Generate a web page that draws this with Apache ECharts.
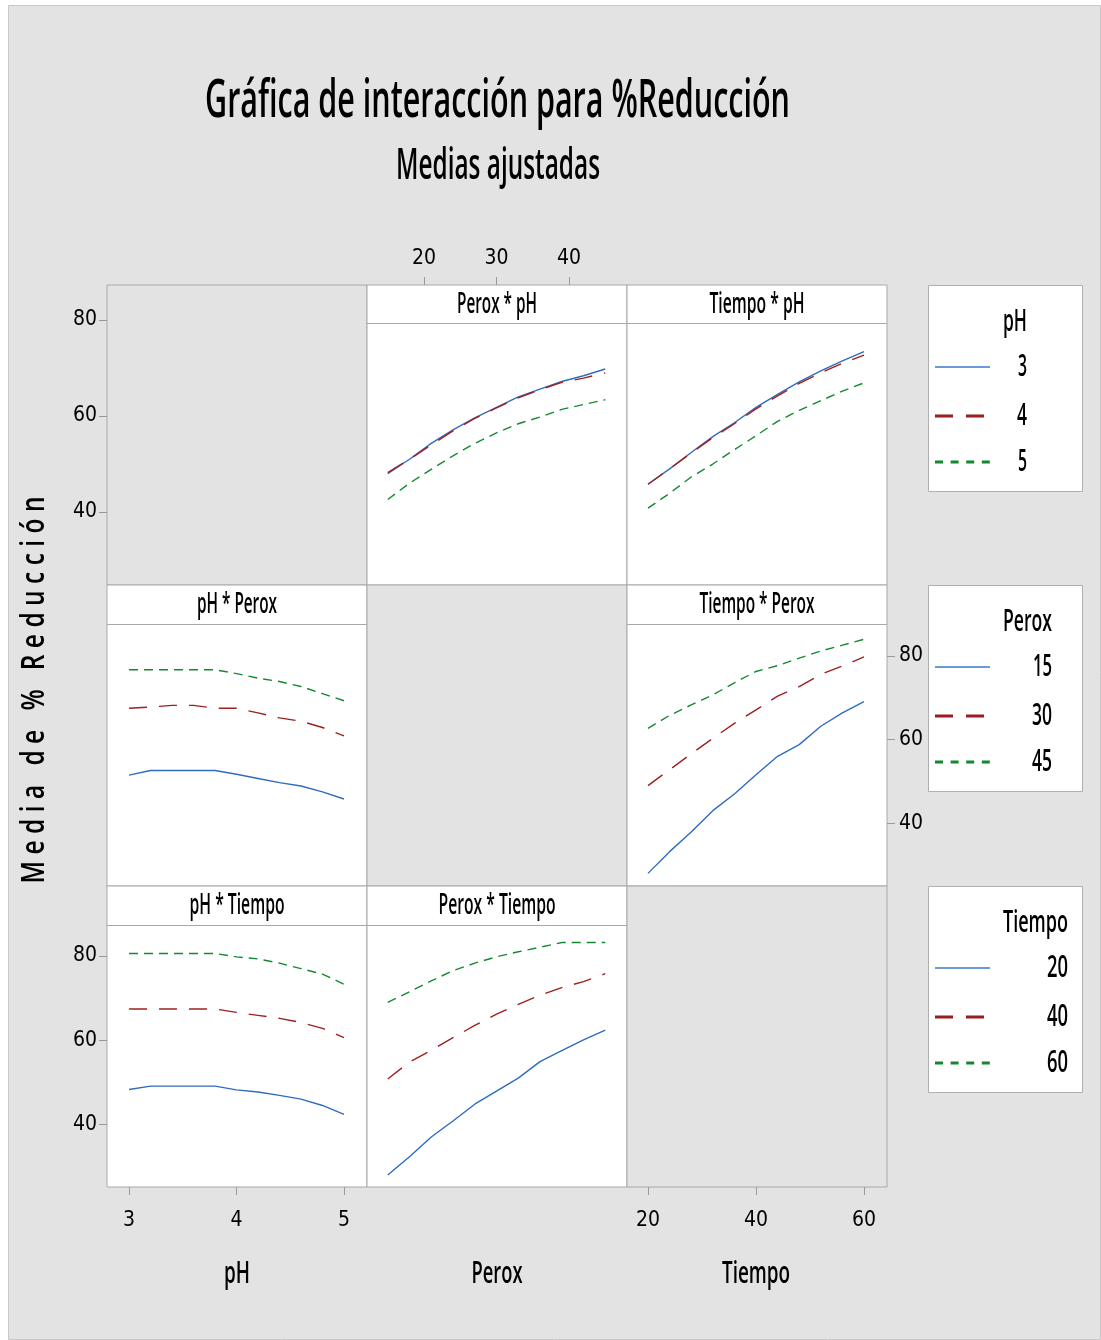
<!DOCTYPE html>
<html>
<head>
<meta charset="utf-8">
<script src="https://cdn.jsdelivr.net/npm/echarts@6/dist/echarts.min.js"></script>
<style>
  html, body { margin: 0; padding: 0; background: #ffffff; }
  #chart { width: 1101px; height: 1340px; }
</style>
</head>
<body>
<div id="chart"></div>
<script>
// Factor levels
const phLevels = [3, 4, 5];
const peroxLevels = [15, 30, 45];
const tiempoLevels = [20, 40, 60];

// Points along each factor where the adjusted means are evaluated
const phGrid = [3.0, 3.2, 3.4, 3.6, 3.8, 4.0, 4.2, 4.4, 4.6, 4.8, 5.0];
const peroxGrid = [15, 18, 21, 24, 27, 30, 33, 36, 39, 42, 45];
const tiempoGrid = [20, 24, 28, 32, 36, 40, 44, 48, 52, 56, 60];

// Mean %Reducción vs Perox, one curve per pH level
const peroxPh3 = [48.0, 51.0, 54.3, 57.1, 59.6, 61.8, 64.0, 65.6, 67.2, 68.4, 69.8];
const peroxPh4 = [48.2, 51.0, 54.0, 56.9, 59.5, 61.7, 63.8, 65.5, 67.0, 67.9, 69.0];
const peroxPh5 = [42.6, 46.0, 48.9, 51.7, 54.3, 56.5, 58.4, 59.8, 61.4, 62.4, 63.4];

// Mean %Reducción vs Tiempo, one curve per pH level
const tiempoPh3 = [45.8, 49.0, 52.4, 55.7, 58.6, 61.8, 64.5, 67.1, 69.4, 71.5, 73.4];
const tiempoPh4 = [45.8, 49.0, 52.3, 55.5, 58.4, 61.5, 64.2, 66.8, 69.0, 71.0, 72.7];
const tiempoPh5 = [40.8, 43.9, 47.3, 50.0, 53.0, 55.9, 58.9, 61.2, 63.2, 65.2, 66.9];

// Mean %Reducción vs pH, one curve per Perox level
const phPerox15 = [51.5, 52.6, 52.6, 52.6, 52.6, 51.7, 50.7, 49.7, 48.9, 47.5, 45.8];
const phPerox30 = [67.5, 67.8, 68.2, 68.2, 67.5, 67.5, 66.4, 65.2, 64.4, 62.9, 60.9];
const phPerox45 = [76.7, 76.7, 76.7, 76.7, 76.7, 75.8, 74.7, 73.9, 72.7, 71.0, 69.3];

// Mean %Reducción vs Tiempo, one curve per Perox level
const tiempoPerox15 = [28.0, 33.2, 37.9, 43.0, 47.0, 51.6, 56.0, 58.8, 63.2, 66.4, 69.1];
const tiempoPerox30 = [49.0, 52.8, 56.6, 60.3, 63.9, 67.1, 70.4, 72.7, 75.6, 77.6, 79.8];
const tiempoPerox45 = [62.7, 65.8, 68.3, 70.7, 73.6, 76.3, 77.7, 79.5, 81.2, 82.6, 84.0];

// Mean %Reducción vs pH, one curve per Tiempo level
const phTiempo20 = [48.3, 49.1, 49.1, 49.1, 49.1, 48.2, 47.7, 46.9, 46.0, 44.5, 42.4];
const phTiempo40 = [67.4, 67.4, 67.4, 67.4, 67.4, 66.6, 65.9, 65.2, 64.2, 62.8, 60.6];
const phTiempo60 = [80.6, 80.6, 80.6, 80.6, 80.6, 79.8, 79.3, 78.3, 77.0, 75.7, 73.3];

// Mean %Reducción vs Perox, one curve per Tiempo level
const peroxTiempo20 = [28.0, 32.3, 37.0, 40.8, 44.8, 47.9, 51.0, 54.9, 57.5, 60.1, 62.4];
const peroxTiempo40 = [50.8, 54.8, 57.6, 60.6, 63.5, 66.2, 68.5, 70.7, 72.5, 73.9, 75.8];
const peroxTiempo60 = [69.0, 71.5, 74.1, 76.5, 78.3, 79.8, 81.0, 82.1, 83.2, 83.2, 83.2];

// Tick labels
const meanTicks = [40, 60, 80];
const phTicks = [3, 4, 5];
const peroxTicks = [20, 30, 40];
const tiempoTicks = [20, 40, 60];

// Texts
const titleText = 'Gráfica de interacción para %Reducción';
const subtitleText = 'Medias ajustadas';
const yTitleText = 'M e d i a   d e   %   R e d u c c i ó n';
const factorNames = ['pH', 'Perox', 'Tiempo'];

// ---- layout of the 3x3 matrix ----
const colX = [107, 367, 627];
const rowY = [285, 585, 886];
const cellW = 260;
const cellH = [300, 301, 301];
const stripH = [38, 39, 39];
const colRange = [[2.795, 5.214], [12.14, 48.0], [16.11, 64.26]];
const rowRange = [[24.8, 87.3], [24.98, 96.99], [25.13, 96.63]];

const lineStyles = [
  { color: '#2f6cc0', width: 1.4, type: 'solid' },
  { color: '#a01f1f', width: 1.4, type: [18, 12] },
  { color: '#138a31', width: 1.4, type: [9, 6] }
];

const panels = [
  { row: 0, col: 1, xs: peroxGrid, curves: [peroxPh3, peroxPh4, peroxPh5], levels: phLevels, by: 'pH' },
  { row: 0, col: 2, xs: tiempoGrid, curves: [tiempoPh3, tiempoPh4, tiempoPh5], levels: phLevels, by: 'pH' },
  { row: 1, col: 0, xs: phGrid, curves: [phPerox15, phPerox30, phPerox45], levels: peroxLevels, by: 'Perox' },
  { row: 1, col: 2, xs: tiempoGrid, curves: [tiempoPerox15, tiempoPerox30, tiempoPerox45], levels: peroxLevels, by: 'Perox' },
  { row: 2, col: 0, xs: phGrid, curves: [phTiempo20, phTiempo40, phTiempo60], levels: tiempoLevels, by: 'Tiempo' },
  { row: 2, col: 1, xs: peroxGrid, curves: [peroxTiempo20, peroxTiempo40, peroxTiempo60], levels: tiempoLevels, by: 'Tiempo' }
];

// ---- text helpers (condensed lettering via horizontal scaling) ----
const FONT = '"Open Sans"';
const WEIGHT = 600;
const mctx = document.createElement('canvas').getContext('2d');
function squeeze(str, size, width) {
  mctx.font = WEIGHT + ' ' + size + 'px ' + FONT;
  return width / mctx.measureText(str).width;
}
function txt(str, x, y, size, width, align, extra) {
  const a = align || 'center';
  return Object.assign({
    type: 'text', x: x, y: y, z: 50, silent: true,
    scaleX: squeeze(str, size, width),
    style: {
      text: str, fontSize: size, fontFamily: FONT, fontWeight: WEIGHT, fill: '#000',
      align: a, verticalAlign: 'middle', textAlign: a, textVerticalAlign: 'middle'
    }
  }, extra || {});
}

// ---- grids and axes ----
const grids = [], xAxes = [], yAxes = [];
const tickStyle = { show: true, length: 8, lineStyle: { color: '#9a9a9a', width: 1 } };
const labelFont = { color: '#000', fontSize: 21, fontFamily: '"Liberation Sans Narrow", "DejaVu Sans Condensed", "Open Sans"' };

for (let r = 0; r < 3; r++) {
  for (let c = 0; c < 3; c++) {
    const i = r * 3 + c;
    grids.push({
      left: colX[c], top: rowY[r], width: cellW, height: cellH[r],
      show: true, backgroundColor: r === c ? '#e3e3e3' : '#ffffff',
      borderColor: '#a8a8a8', borderWidth: 1
    });
    xAxes.push({ gridIndex: i, type: 'value', min: colRange[c][0], max: colRange[c][1], show: false, splitLine: { show: false } });
    yAxes.push({ gridIndex: i, type: 'value', min: rowRange[r][0], max: rowRange[r][1], show: false, splitLine: { show: false } });
  }
}

function showAxis(ax, position, ticks, margin) {
  Object.assign(ax, {
    show: true, position: position,
    axisLine: { show: false },
    axisTick: Object.assign({ customValues: ticks }, tickStyle),
    axisLabel: Object.assign({ customValues: ticks, margin: margin }, labelFont)
  });
}
showAxis(yAxes[0], 'left', meanTicks, 10);     // row 1 means
showAxis(yAxes[5], 'right', meanTicks, 12);    // row 2 means
showAxis(yAxes[6], 'left', meanTicks, 10);     // row 3 means
showAxis(xAxes[1], 'top', peroxTicks, 16);     // Perox
showAxis(xAxes[6], 'bottom', phTicks, 23);     // pH
showAxis(xAxes[8], 'bottom', tiempoTicks, 23); // Tiempo

// ---- series ----
const series = [];
panels.forEach(p => {
  const i = p.row * 3 + p.col;
  p.curves.forEach((vals, k) => {
    series.push({
      type: 'line', name: p.by + ' ' + p.levels[k],
      xAxisIndex: i, yAxisIndex: i,
      data: p.xs.map((x, j) => [x, vals[j]]),
      showSymbol: false, symbol: 'none', silent: true, animation: false,
      lineStyle: lineStyles[k]
    });
  });
});

// ---- decorations: page, titles, strips, legends ----
const graphics = [];
graphics.push({
  type: 'rect', z: -10, silent: true,
  shape: { x: 8.5, y: 5.5, width: 1092, height: 1334 },
  style: { fill: '#e3e3e3', stroke: '#c8c8c8', lineWidth: 1 }
});
graphics.push(txt(titleText, 497.5, 102, 52, 585));
graphics.push(txt(subtitleText, 498, 166, 44, 204));
graphics.push(txt(yTitleText, 35, 690, 33, 387, 'center', { rotation: Math.PI / 2 }));

const stripWidths = { 'Perox * pH': 80, 'Tiempo * pH': 95, 'pH * Perox': 80, 'Tiempo * Perox': 115, 'pH * Tiempo': 95, 'Perox * Tiempo': 117 };
panels.forEach(p => {
  const x0 = colX[p.col], y0 = rowY[p.row], h = stripH[p.row];
  graphics.push({
    type: 'line', z: 40, silent: true,
    shape: { x1: x0, y1: y0 + h + 0.5, x2: x0 + cellW, y2: y0 + h + 0.5 },
    style: { stroke: '#a8a8a8', lineWidth: 1 }
  });
  const label = factorNames[p.col] + ' * ' + p.by;
  graphics.push(txt(label, x0 + cellW / 2, y0 + h / 2 + 1, 28, stripWidths[label]));
});

// bottom factor titles
graphics.push(txt(factorNames[0], 237, 1274, 30, 26));
graphics.push(txt(factorNames[1], 497, 1274, 30, 51));
graphics.push(txt(factorNames[2], 756, 1274, 30, 68));

// legends
const legendDefs = [
  { top: 285, name: 'pH', levels: phLevels, titleW: 24, labelW: [9, 10, 9] },
  { top: 585, name: 'Perox', levels: peroxLevels, titleW: 49, labelW: [19, 20, 20] },
  { top: 886, name: 'Tiempo', levels: tiempoLevels, titleW: 65, labelW: [21, 21, 21] }
];
const legendLine = [
  { stroke: '#3a78c6', lineWidth: 1.3, lineDash: null },
  { stroke: '#9b1c1c', lineWidth: 3, lineDash: [18, 13] },
  { stroke: '#13882f', lineWidth: 3, lineDash: [8, 7.6] }
];
legendDefs.forEach(L => {
  graphics.push({
    type: 'rect', z: 20, silent: true,
    shape: { x: 928.5, y: L.top + 0.5, width: 154, height: 206 },
    style: { fill: '#ffffff', stroke: '#b0b0b0', lineWidth: 1 }
  });
  graphics.push(txt(L.name, 1003, L.top + 37, 30, L.titleW, 'left'));
  const right = 1003 + L.titleW;
  const rowsY = [L.top + 82, L.top + 131, L.top + 177];
  L.levels.forEach((lv, k) => {
    graphics.push({
      type: 'line', z: 30, silent: true,
      shape: { x1: 935, y1: rowsY[k], x2: 990, y2: rowsY[k] },
      style: Object.assign({}, legendLine[k])
    });
    graphics.push(txt(String(lv), right, rowsY[k], 30, L.labelW[k], 'right'));
  });
});

const chart = echarts.init(document.getElementById('chart'), null, { renderer: 'canvas' });
chart.setOption({
  animation: false,
  backgroundColor: 'transparent',
  grid: grids,
  xAxis: xAxes,
  yAxis: yAxes,
  series: series,
  graphic: { elements: graphics }
});
</script>
</body>
</html>
